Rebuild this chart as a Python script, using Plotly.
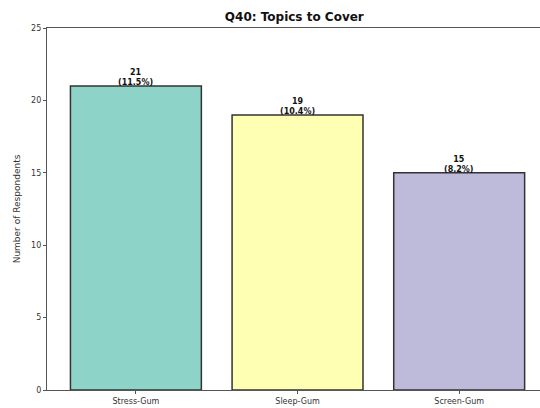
import plotly.graph_objects as go

categories = ["Stress-Gum", "Sleep-Gum", "Screen-Gum"]
counts = [21, 19, 15]
percents = [11.5, 10.4, 8.2]
colors = ["#8dd3c7", "#ffffb3", "#bebada"]
y_ticks = [0, 5, 10, 15, 20, 25]

fig = go.Figure(
    go.Bar(
        x=list(range(len(categories))),
        y=counts,
        width=0.81,
        marker=dict(color=colors, line=dict(color="#333333", width=1.5)),
        hoverinfo="skip",
    )
)

# count and share labels sitting on top of each bar
for i, (c, p) in enumerate(zip(counts, percents)):
    fig.add_annotation(
        x=i,
        y=c,
        text=f"<b>{c}<br>({p}%)</b>",
        showarrow=False,
        yanchor="bottom",
        yshift=-3,
        font=dict(size=8, color="#111111", family="DejaVu Sans"),
    )

fig.update_layout(
    width=540,
    height=408,
    margin=dict(l=47, r=0, t=28, b=18),
    paper_bgcolor="white",
    plot_bgcolor="white",
    showlegend=False,
    title=dict(
        text="<b>Q40: Topics to Cover</b>",
        x=0.545,
        xanchor="center",
        y=0.958,
        yanchor="middle",
        font=dict(size=12, color="#111111", family="DejaVu Sans"),
    ),
    font=dict(family="DejaVu Sans", size=8, color="#333333"),
)

fig.update_xaxes(
    range=[-0.55, 2.5],
    tickvals=list(range(len(categories))),
    ticktext=categories,
    showline=True,
    linecolor="#555555",
    linewidth=1.2,
    mirror=True,
    ticks="outside",
    ticklen=3,
    tickcolor="#555555",
    showgrid=False,
    zeroline=False,
    tickfont=dict(size=8, color="#333333"),
)

fig.update_yaxes(
    range=[0, 25],
    tickvals=y_ticks,
    showline=True,
    linecolor="#555555",
    linewidth=1.2,
    mirror=True,
    ticks="outside",
    ticklen=3,
    tickcolor="#555555",
    showgrid=False,
    zeroline=False,
    tickfont=dict(size=8, color="#333333"),
    title=dict(text="Number of Respondents", font=dict(size=9, color="#333333"), standoff=8),
)

fig.write_html("out.html")
